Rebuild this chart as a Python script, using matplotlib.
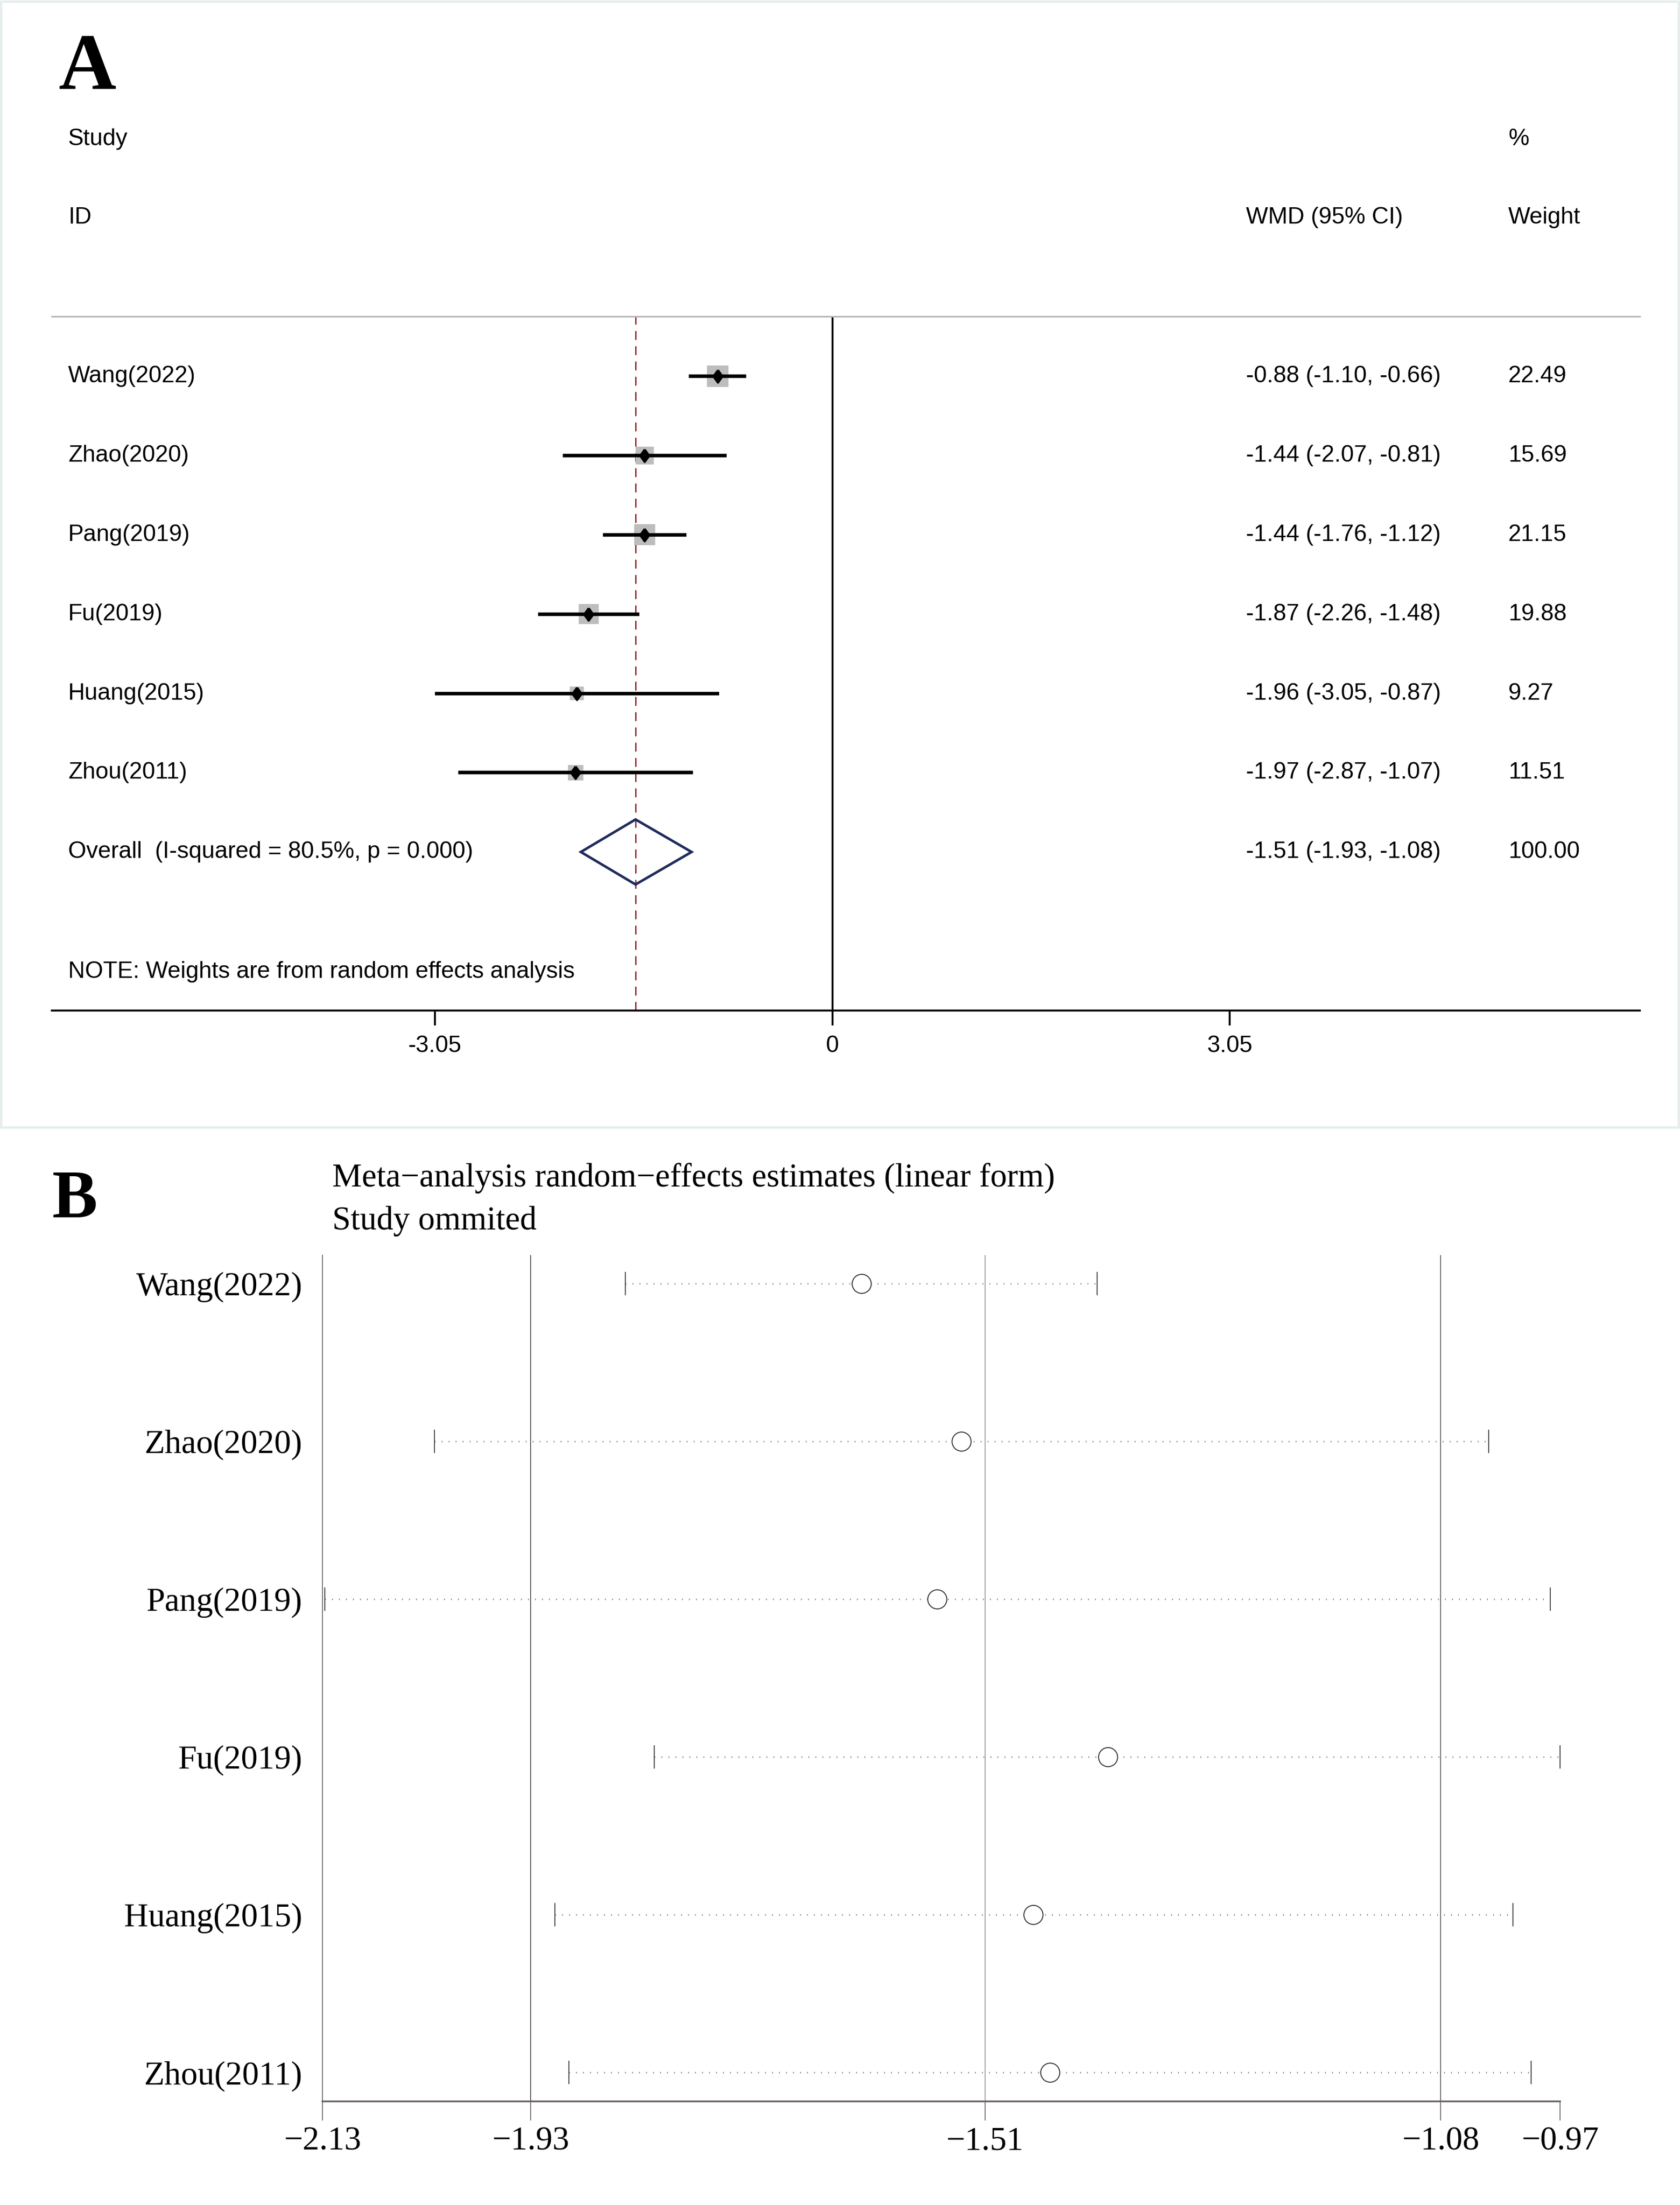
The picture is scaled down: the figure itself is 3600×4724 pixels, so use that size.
import matplotlib
matplotlib.use('Agg')
import matplotlib.pyplot as plt
import matplotlib.transforms as mtransforms
from matplotlib.patches import Rectangle, Polygon
from matplotlib.path import Path
import numpy as np

W, H = 3600, 4724

# panel A: forest plot data
studies = ['Wang(2022)', 'Zhao(2020)', 'Pang(2019)', 'Fu(2019)', 'Huang(2015)', 'Zhou(2011)']
wmd = [-0.88, -1.44, -1.44, -1.87, -1.96, -1.97]
wmd_lo = [-1.10, -2.07, -1.76, -2.26, -3.05, -2.87]
wmd_hi = [-0.66, -0.81, -1.12, -1.48, -0.87, -1.07]
weights = [22.49, 15.69, 21.15, 19.88, 9.27, 11.51]
overall = [-1.51, -1.93, -1.08]
overall_weight = 100.00
overall_label = 'Overall  (I-squared = 80.5%, p = 0.000)'
note = 'NOTE: Weights are from random effects analysis'
a_ticks = [-3.05, 0, 3.05]
a_ticklabels = ['-3.05', '0', '3.05']

# panel B: leave-one-out (study omitted)
omit_est = [-1.625, -1.531, -1.554, -1.394, -1.464, -1.448]
omit_lo = [-1.846, -2.025, -2.128, -1.819, -1.912, -1.899]
omit_hi = [-1.404, -1.037, -0.979, -0.970, -1.014, -0.997]
b_ticks = [-2.13, -1.935, -1.509, -1.082, -0.97]
b_ticklabels = ['\u22122.13', '\u22121.93', '\u22121.51', '\u22121.08', '\u22120.97']

SANS = 'Liberation Sans'
SERIF = 'Liberation Serif'


def box(x0, y0, x1, y1):
    # pixel box -> figure fraction rect
    return [x0 / W, 1 - y1 / H, (x1 - x0) / W, (y1 - y0) / H]


fig = plt.figure(figsize=(W / 300, H / 300), dpi=300)

# light frame around panel A
fig.add_artist(Rectangle((2 / W, 1 - 2415 / H), 3595 / W, 2412 / H, transform=fig.transFigure,
                         fill=False, edgecolor='#e6eded', lw=1.2))

# ---------------- panel A ----------------
axA = fig.add_axes(box(111, 678, 3514, 2165))
px_unit = 279.2
axA.set_xlim((111 - 1783.5) / px_unit, (3514 - 1783.5) / px_unit)
axA.set_ylim(9.0, 0.246)
rows = np.arange(1, len(studies) + 1)

for s in ['left', 'right']:
    axA.spines[s].set_visible(False)
axA.spines['top'].set_color('#b4b4b4')
axA.spines['top'].set_linewidth(0.8)
axA.spines['bottom'].set_linewidth(1.0)
axA.set_yticks([])
axA.set_xticks(a_ticks, a_ticklabels)
axA.tick_params(axis='x', length=7.7, width=1.0, labelsize=12, pad=5)
for lab in axA.get_xticklabels():
    lab.set_family(SANS)

axA.axvline(0, color='black', lw=1.0, zorder=1)
axA.axvline(overall[0], color='#962428', lw=0.7, dashes=(6.5, 4.7), zorder=1)

sizes = (2.34 * np.sqrt(weights)) ** 2
axA.scatter(wmd, rows, s=sizes, marker='s', color='#bdbdbd', linewidths=0, zorder=2)
axA.hlines(rows, wmd_lo, wmd_hi, color='black', lw=1.8, zorder=3)
thin_diamond = Path([(0, 1), (0.74, 0), (0, -1), (-0.74, 0), (0, 1)])
axA.plot(wmd, rows, linestyle='none', marker=thin_diamond, ms=6.5, color='black', zorder=4)

ov_row = len(studies) + 1
axA.add_patch(Polygon([(overall[1], ov_row), (overall[0], ov_row - 0.41),
                       (overall[2], ov_row), (overall[0], ov_row + 0.41)],
                      closed=True, fill=False, edgecolor='#1f2b5c', lw=1.3, zorder=4))

tA = mtransforms.blended_transform_factory(fig.transFigure, axA.transData)
xs_lab, xs_wmd, xs_wt = 146 / W, 2670 / W, 3232 / W
txt = dict(transform=tA, fontsize=12, family=SANS, va='center', ha='left')
fig.text(xs_lab, -1.99, 'Study', **txt)
fig.text(xs_lab, -1.0, 'ID', **txt)
fig.text(xs_wt, -1.99, '%', **txt)
fig.text(xs_wmd, -1.0, 'WMD (95% CI)', **txt)
fig.text(xs_wt, -1.0, 'Weight', **txt)
for r, name, m, lo, hi, w in zip(rows, studies, wmd, wmd_lo, wmd_hi, weights):
    fig.text(xs_lab, r, name, **txt)
    fig.text(xs_wmd, r, f'{m:.2f} ({lo:.2f}, {hi:.2f})', **txt)
    fig.text(xs_wt, r, f'{w:.2f}', **txt)
fig.text(xs_lab, ov_row, overall_label, **txt)
fig.text(xs_wmd, ov_row, f'{overall[0]:.2f} ({overall[1]:.2f}, {overall[2]:.2f})', **txt)
fig.text(xs_wt, ov_row, f'{overall_weight:.2f}', **txt)
fig.text(xs_lab, 8.51, note, **txt)

fig.text(125 / W, 1 - 191 / H, 'A', fontsize=41, family=SERIF, fontweight='bold', va='baseline')

# ---------------- panel B ----------------
axB = fig.add_axes(box(691, 2689, 3343, 4502))
axB.set_xlim(b_ticks[0], b_ticks[-1])
axB.set_ylim(6.183, 0.82)

axB.spines['top'].set_visible(False)
axB.spines['right'].set_visible(False)
axB.spines['left'].set_color('#555555')
axB.spines['left'].set_linewidth(0.4)
axB.spines['bottom'].set_color('#6b635e')
axB.spines['bottom'].set_linewidth(0.9)

grid_cols = ['#3c3c3c', '#8c8c8c', '#4a4a4a']
for xv, c in zip(b_ticks[1:4], grid_cols):
    axB.axvline(xv, color=c, lw=0.4, zorder=0)

axB.set_xticks(b_ticks, b_ticklabels)
axB.tick_params(axis='x', length=9.8, width=0.4, color='#555555', labelsize=17.2, pad=3)
axB.set_yticks(rows, studies)
axB.tick_params(axis='y', length=0, labelsize=17.2, pad=10.3)
for lab in axB.get_xticklabels() + axB.get_yticklabels():
    lab.set_family(SERIF)

for r, lo, hi in zip(rows, omit_lo, omit_hi):
    axB.plot([lo, hi], [r, r], color='#777777', lw=0.8, linestyle=(0, (0.5, 4)), zorder=1)
axB.plot(omit_lo, rows, linestyle='none', marker='|', ms=12.2, mew=0.5, color='#444444', clip_on=False)
axB.plot(omit_hi, rows, linestyle='none', marker='|', ms=12.2, mew=0.5, color='#444444', clip_on=False)
axB.plot(omit_est, rows, linestyle='none', marker='o', ms=9.8, mfc='white', mec='#333333', mew=0.5, zorder=3)

fig.text(712 / W, 1 - 2543 / H, 'Meta\u2212analysis random\u2212effects estimates (linear form)',
         fontsize=17.1, family=SERIF, va='baseline')
fig.text(712 / W, 1 - 2634 / H, 'Study ommited', fontsize=17.1, family=SERIF, va='baseline')
fig.text(112 / W, 1 - 2608 / H, 'B', fontsize=35, family=SERIF, fontweight='bold', va='baseline')

fig.savefig('out.png', dpi=300)
